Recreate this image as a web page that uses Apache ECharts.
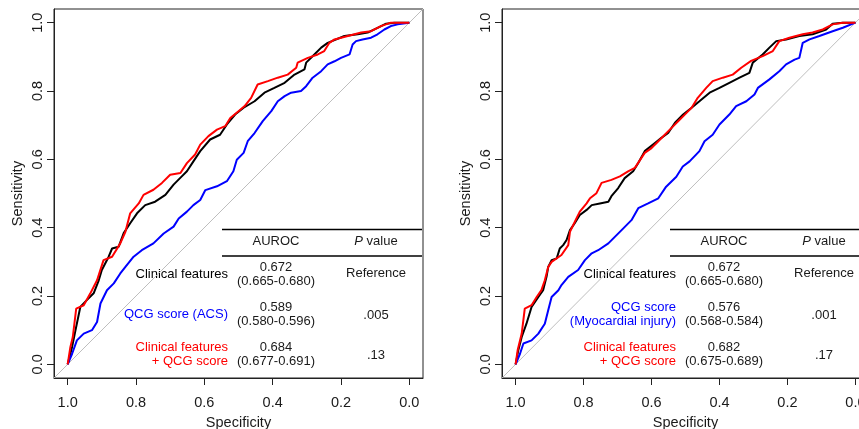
<!DOCTYPE html>
<html>
<head>
<meta charset="utf-8">
<title>ROC curves: clinical features and QCG score</title>
<script src="https://cdn.jsdelivr.net/npm/echarts@6/dist/echarts.min.js"></script>
<style>
  html, body { margin: 0; padding: 0; background: #fff; }
  #chart { width: 859px; height: 429px; }
</style>
</head>
<body>
<div id="chart"></div>
<script>
// Axis ticks shared by both panels
const tickValues = [0, 0.2, 0.4, 0.6, 0.8, 1.0];

// Panel A (ACS): [specificity, sensitivity]
const acsClinical = [
  [1.000,0.000],[0.987,0.051],[0.977,0.100],[0.963,0.168],[0.944,0.188],[0.924,0.208],
  [0.909,0.246],[0.900,0.276],[0.880,0.315],[0.870,0.339],[0.851,0.344],[0.836,0.384],
  [0.817,0.413],[0.797,0.442],[0.773,0.466],[0.744,0.476],[0.714,0.496],[0.690,0.526],
  [0.666,0.550],[0.651,0.565],[0.632,0.594],[0.612,0.624],[0.583,0.658],[0.554,0.672],
  [0.534,0.702],[0.510,0.731],[0.485,0.751],[0.453,0.770],[0.424,0.795],[0.395,0.809],
  [0.365,0.824],[0.336,0.848],[0.307,0.863],[0.302,0.883],[0.278,0.907],[0.258,0.927],
  [0.239,0.941],[0.190,0.961],[0.151,0.966],[0.122,0.971],[0.093,0.985],[0.068,0.997],
  [0.044,1.000],[0.000,1.000]
];
const acsQcg = [
  [1.000,0.000],[0.987,0.031],[0.973,0.070],[0.953,0.090],[0.929,0.100],[0.914,0.124],
  [0.904,0.178],[0.885,0.217],[0.865,0.237],[0.846,0.266],[0.831,0.285],[0.807,0.315],
  [0.783,0.334],[0.749,0.354],[0.719,0.383],[0.690,0.403],[0.675,0.427],[0.651,0.447],
  [0.632,0.466],[0.612,0.481],[0.597,0.510],[0.563,0.521],[0.534,0.536],[0.515,0.565],
  [0.505,0.599],[0.485,0.619],[0.473,0.653],[0.453,0.677],[0.429,0.712],[0.404,0.741],
  [0.385,0.770],[0.365,0.785],[0.346,0.795],[0.317,0.800],[0.302,0.814],[0.283,0.839],
  [0.258,0.858],[0.239,0.878],[0.219,0.887],[0.200,0.897],[0.175,0.907],[0.166,0.936],
  [0.156,0.946],[0.137,0.951],[0.112,0.956],[0.093,0.966],[0.073,0.980],[0.054,0.990],
  [0.034,0.995],[0.000,1.000]
];
const acsCombined = [
  [1.000,0.000],[0.992,0.051],[0.985,0.080],[0.975,0.163],[0.953,0.173],[0.934,0.207],
  [0.914,0.246],[0.895,0.305],[0.870,0.315],[0.846,0.354],[0.831,0.388],[0.817,0.442],
  [0.792,0.471],[0.778,0.496],[0.749,0.511],[0.724,0.531],[0.700,0.555],[0.670,0.560],
  [0.651,0.589],[0.627,0.614],[0.612,0.643],[0.588,0.668],[0.563,0.687],[0.539,0.697],
  [0.524,0.721],[0.500,0.741],[0.482,0.756],[0.463,0.780],[0.444,0.819],[0.414,0.829],
  [0.385,0.839],[0.356,0.848],[0.331,0.868],[0.327,0.883],[0.297,0.897],[0.268,0.907],
  [0.249,0.917],[0.234,0.941],[0.219,0.951],[0.180,0.961],[0.141,0.971],[0.112,0.975],
  [0.083,0.990],[0.054,1.000],[0.000,1.000]
];

// Panel B (myocardial injury): [specificity, sensitivity]
const injClinical = [
  [1.000,0.000],[0.992,0.041],[0.982,0.080],[0.968,0.119],[0.953,0.168],[0.933,0.197],
  [0.919,0.217],[0.909,0.256],[0.904,0.285],[0.894,0.305],[0.879,0.310],[0.870,0.339],
  [0.860,0.349],[0.850,0.364],[0.840,0.393],[0.826,0.413],[0.811,0.437],[0.791,0.452],
  [0.776,0.466],[0.752,0.471],[0.727,0.476],[0.718,0.492],[0.698,0.516],[0.679,0.545],
  [0.654,0.565],[0.639,0.589],[0.620,0.624],[0.590,0.648],[0.571,0.663],[0.551,0.677],
  [0.531,0.707],[0.507,0.731],[0.482,0.751],[0.459,0.770],[0.429,0.795],[0.400,0.809],
  [0.371,0.824],[0.341,0.839],[0.312,0.853],[0.302,0.883],[0.273,0.907],[0.253,0.927],
  [0.233,0.946],[0.204,0.951],[0.165,0.961],[0.126,0.966],[0.086,0.980],[0.067,0.997],
  [0.037,1.000],[0.000,1.000]
];
const injQcg = [
  [1.000,0.000],[0.987,0.031],[0.977,0.061],[0.953,0.070],[0.933,0.090],[0.914,0.119],
  [0.904,0.158],[0.894,0.197],[0.874,0.217],[0.865,0.232],[0.845,0.256],[0.816,0.276],
  [0.796,0.305],[0.776,0.325],[0.757,0.334],[0.727,0.354],[0.708,0.373],[0.683,0.398],
  [0.659,0.422],[0.639,0.457],[0.610,0.471],[0.580,0.486],[0.557,0.520],[0.527,0.549],
  [0.508,0.579],[0.488,0.594],[0.459,0.624],[0.444,0.653],[0.420,0.672],[0.400,0.702],
  [0.371,0.731],[0.351,0.756],[0.321,0.770],[0.297,0.790],[0.287,0.809],[0.253,0.834],
  [0.224,0.858],[0.204,0.878],[0.179,0.892],[0.165,0.897],[0.155,0.941],[0.135,0.951],
  [0.106,0.961],[0.067,0.975],[0.037,0.985],[0.000,1.000]
];
const injCombined = [
  [1.000,0.000],[0.994,0.041],[0.982,0.090],[0.973,0.163],[0.953,0.173],[0.938,0.197],
  [0.924,0.217],[0.914,0.246],[0.904,0.285],[0.894,0.300],[0.865,0.320],[0.845,0.349],
  [0.840,0.388],[0.821,0.427],[0.811,0.447],[0.791,0.471],[0.781,0.486],[0.762,0.501],
  [0.747,0.531],[0.718,0.540],[0.693,0.550],[0.669,0.565],[0.649,0.575],[0.620,0.619],
  [0.600,0.633],[0.580,0.653],[0.561,0.672],[0.541,0.692],[0.521,0.712],[0.497,0.736],
  [0.482,0.751],[0.464,0.780],[0.439,0.809],[0.420,0.829],[0.390,0.839],[0.361,0.848],
  [0.336,0.868],[0.307,0.888],[0.273,0.902],[0.243,0.917],[0.224,0.946],[0.194,0.956],
  [0.155,0.966],[0.126,0.971],[0.096,0.980],[0.067,0.995],[0.037,1.000],[0.000,1.000]
];

// Inset table contents
const headers = ['AUROC', '{i|P} value'];
const rowLabelsA = ['Clinical features', 'QCG score (ACS)', 'Clinical features\n+ QCG score'];
const rowLabelsB = ['Clinical features', 'QCG score\n(Myocardial injury)', 'Clinical features\n+ QCG score'];
const aurocA = ['0.672\n(0.665-0.680)', '0.589\n(0.580-0.596)', '0.684\n(0.677-0.691)'];
const aurocB = ['0.672\n(0.665-0.680)', '0.576\n(0.568-0.584)', '0.682\n(0.675-0.689)'];
const pValuesA = ['Reference', '.005', '.13'];
const pValuesB = ['Reference', '.001', '.17'];

const COLORS = { clinical: '#000000', qcg: '#0000FF', combined: '#FF0000' };
const rowColors = [COLORS.clinical, COLORS.qcg, COLORS.combined];
const FONT = '"Liberation Sans", Arial, Helvetica, sans-serif';
const INK = '#1a1a1a';
const AXIS_MIN = -0.04, AXIS_MAX = 1.04;   // 4% padding around [0, 1]

const panels = [
  { left: 54, width: 369, curves: [acsClinical, acsQcg, acsCombined],
    labels: rowLabelsA, auroc: aurocA, pvals: pValuesA },
  { left: 502, width: 367, curves: [injClinical, injQcg, injCombined],
    labels: rowLabelsB, auroc: aurocB, pvals: pValuesB }
];
const GRID_TOP = 9, GRID_H = 369;

const chart = echarts.init(document.getElementById('chart'), null, { renderer: 'canvas' });

const grids = [], xAxes = [], yAxes = [], series = [], graphics = [];
const fmt = v => v.toFixed(1);

panels.forEach((p, i) => {
  grids.push({
    left: p.left, top: GRID_TOP, width: p.width, height: GRID_H,
    containLabel: false, outerBoundsMode: 'none',
    show: true, borderColor: '#222', borderWidth: 1, backgroundColor: 'transparent'
  });
  xAxes.push({
    type: 'value', gridIndex: i, min: AXIS_MIN, max: AXIS_MAX, inverse: true,
    position: 'bottom',
    axisLine: { show: true, onZero: false, lineStyle: { color: '#222', width: 1 } },
    axisTick: { show: true, customValues: tickValues, length: 7, lineStyle: { color: '#222' } },
    axisLabel: { customValues: tickValues, formatter: fmt, margin: 17,
      fontFamily: FONT, fontSize: 14.5, color: INK },
    splitLine: { show: false },
    name: 'Specificity', nameLocation: 'middle', nameGap: 37,
    nameTextStyle: { fontFamily: FONT, fontSize: 14.5, color: INK }
  });
  yAxes.push({
    type: 'value', gridIndex: i, min: AXIS_MIN, max: AXIS_MAX,
    position: 'left',
    axisLine: { show: true, onZero: false, lineStyle: { color: '#222', width: 1 } },
    axisTick: { show: true, customValues: tickValues, length: 7, lineStyle: { color: '#222' } },
    axisLabel: { customValues: tickValues, formatter: fmt, rotate: 90, margin: 9,
      fontFamily: FONT, fontSize: 14.5, color: INK },
    splitLine: { show: false },
    name: 'Sensitivity', nameLocation: 'middle', nameGap: 29, nameRotate: 90,
    nameTextStyle: { fontFamily: FONT, fontSize: 14.5, color: INK }
  });

  // chance diagonal across the full plot region
  series.push({
    type: 'line', xAxisIndex: i, yAxisIndex: i, silent: true, symbol: 'none',
    data: [[AXIS_MAX, AXIS_MIN], [AXIS_MIN, AXIS_MAX]],
    lineStyle: { color: '#BEBEBE', width: 1 }, z: 1
  });
  [COLORS.clinical, COLORS.qcg, COLORS.combined].forEach((c, k) => {
    series.push({
      type: 'line', xAxisIndex: i, yAxisIndex: i, silent: true, symbol: 'none',
      data: p.curves[k], lineStyle: { color: c, width: 2 }, z: 2 + k
    });
  });

  // inset table
  const L = p.left;
  [229.5, 256].forEach(y => graphics.push({
    type: 'line', silent: true,
    shape: { x1: L + 168, y1: y, x2: L + 368, y2: y },
    style: { stroke: '#000', lineWidth: 1.5 }
  }));
  const colA = L + 222, colP = L + 322, labelRight = L + 174;
  const textStyle = (text, x, y, align, fill) => ({
    type: 'text', silent: true, x: x, y: y,
    style: { text: text, fill: fill, font: '13px ' + FONT, align: align,
      verticalAlign: 'middle', lineHeight: 14,
      rich: { i: { fontStyle: 'italic', font: 'italic 13px ' + FONT, fill: fill } } }
  });
  graphics.push(textStyle(headers[0], colA, 241, 'center', INK));
  graphics.push(textStyle(headers[1], colP, 241, 'center', INK));
  const rowY = [274.5, 314.5, 354.5];
  const pY = [273.5, 315, 355];
  for (let r = 0; r < 3; r++) {
    graphics.push(textStyle(p.labels[r], labelRight, rowY[r], 'right', rowColors[r]));
    graphics.push(textStyle(p.auroc[r], colA, rowY[r], 'center', INK));
    graphics.push(textStyle(p.pvals[r], colP, pY[r], 'center', INK));
  }
});

chart.setOption({
  animation: false,
  backgroundColor: '#ffffff',
  grid: grids, xAxis: xAxes, yAxis: yAxes, series: series,
  graphic: { elements: graphics }
});
</script>
</body>
</html>
